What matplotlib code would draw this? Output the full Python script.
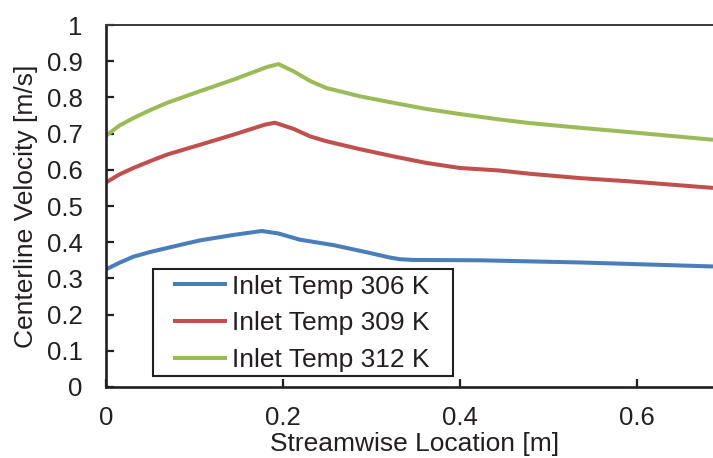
import matplotlib
matplotlib.use("Agg")
import matplotlib.pyplot as plt
from matplotlib.ticker import FuncFormatter
from matplotlib.patches import Rectangle

plt.rcParams['font.family'] = ['Liberation Sans', 'DejaVu Sans']

x_306 = [0, 0.015, 0.031, 0.05, 0.069, 0.106, 0.144, 0.176, 0.195, 0.219, 0.257, 0.295, 0.320, 0.332, 0.347, 0.423, 0.536, 0.686]
y_306 = [0.325, 0.343, 0.360, 0.373, 0.384, 0.405, 0.420, 0.431, 0.424, 0.407, 0.392, 0.372, 0.358, 0.353, 0.351, 0.350, 0.344, 0.333]

x_309 = [0, 0.015, 0.031, 0.05, 0.069, 0.106, 0.144, 0.180, 0.191, 0.212, 0.231, 0.249, 0.287, 0.325, 0.362, 0.4, 0.445, 0.479, 0.536, 0.592, 0.686]
y_309 = [0.565, 0.587, 0.605, 0.624, 0.642, 0.669, 0.697, 0.725, 0.730, 0.713, 0.692, 0.679, 0.657, 0.637, 0.619, 0.605, 0.598, 0.589, 0.577, 0.568, 0.550]

x_312 = [0, 0.015, 0.031, 0.05, 0.069, 0.106, 0.144, 0.182, 0.195, 0.212, 0.231, 0.249, 0.287, 0.325, 0.362, 0.4, 0.445, 0.479, 0.536, 0.592, 0.686]
y_312 = [0.694, 0.722, 0.743, 0.765, 0.785, 0.817, 0.849, 0.884, 0.892, 0.872, 0.845, 0.826, 0.803, 0.785, 0.768, 0.754, 0.739, 0.729, 0.716, 0.704, 0.683]

labels = ["Inlet Temp 306 K", "Inlet Temp 309 K", "Inlet Temp 312 K"]
colors = ["#4A7EBB", "#C0504D", "#9BBB59"]

x_ticks = [0, 0.2, 0.4, 0.6]
y_ticks = [0, 0.1, 0.2, 0.3, 0.4, 0.5, 0.6, 0.7, 0.8, 0.9, 1.0]

fs = 19
tfs = 18.5
dark = '#231f20'
fig = plt.figure(figsize=(7.13, 4.58), dpi=100)
ax = fig.add_axes([106/713, 1 - 387/458, 1 - 106/713, (387 - 25)/458])

for xs, ys, lab, c in zip([x_306, x_309, x_312], [y_306, y_309, y_312], labels, colors):
    ax.plot(xs, ys, color=c, lw=2.9, label=lab, solid_joinstyle='round', solid_capstyle='butt')

ax.set_xlim(0, 0.686)
ax.set_ylim(0, 1)
ax.set_xticks(x_ticks)
ax.set_yticks(y_ticks)
fmt = FuncFormatter(lambda v, p: ("%g" % round(v, 2)))
ax.xaxis.set_major_formatter(fmt)
ax.yaxis.set_major_formatter(fmt)
ax.tick_params(axis='both', direction='in', length=6, width=1.6, labelsize=tfs, colors=dark)
ax.tick_params(axis='y', pad=17)
ax.tick_params(axis='x', pad=14)
ax.tick_params(top=False, right=False)
for s in ['left', 'bottom']:
    ax.spines[s].set_linewidth(1.9)
    ax.spines[s].set_color(dark)
ax.spines['top'].set_linewidth(1.4)
ax.spines['top'].set_color('#3a3a3a')
ax.spines['right'].set_visible(False)

ax.set_xlabel("Streamwise Location [m]", fontsize=fs, color=dark)
ax.xaxis.set_label_coords((415 - 106) / 607, (387 - 432) / 362)
ax.set_ylabel("Centerline Velocity [m/s]", fontsize=fs, color=dark)
ax.yaxis.set_label_coords((38 - 106) / 607, 0.5)

# legend frame (square, black)
x0 = (153.3 - 106) / 607
x1 = (453.3 - 106) / 607
y0 = (387 - 376.3) / 362
y1 = (387 - 268.7) / 362
ax.add_patch(Rectangle((x0, y0), x1 - x0, y1 - y0, transform=ax.transAxes,
                       facecolor='white', edgecolor=dark, lw=1.5, zorder=4))

leg = ax.legend(loc='upper left', bbox_to_anchor=((172.7 - 106) / 607, (387 - 274.7) / 362),
                fontsize=fs, frameon=False,
                handlelength=2.05, handletextpad=0.19, labelspacing=0.48,
                borderpad=0, borderaxespad=0)
leg.set_zorder(5)
for t in leg.get_texts():
    t.set_color(dark)

fig.savefig("out.png", dpi=100)
